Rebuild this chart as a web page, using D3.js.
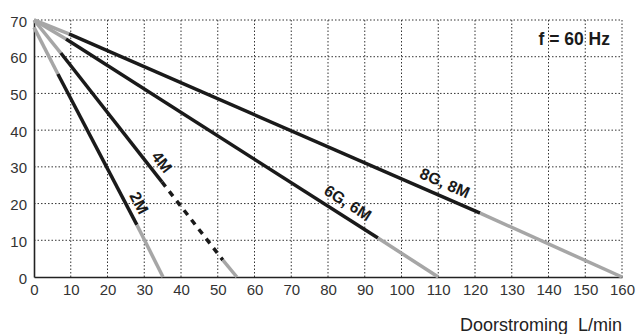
<!DOCTYPE html>
<html>
<head>
<meta charset="utf-8">
<script src="https://cdn.jsdelivr.net/npm/d3@7"></script>
<style>
  html, body { margin: 0; padding: 0; background: #fff; }
  svg { display: block; font-family: Arial, "Liberation Sans", sans-serif; }
</style>
</head>
<body>
<svg id="chart" width="637" height="334"></svg>
<script>
// ---- data ----
const xTicks = [0,10,20,30,40,50,60,70,80,90,100,110,120,130,140,150,160];
const yTicks = [0,10,20,30,40,50,60,70];
const seriesNames = ["2M", "4M", "6G, 6M", "8G, 8M"];
// breakpoints [flow L/min, head m] for each curve
const curve2M = [[0,68],[6.5,55.3],[28,14.2],[35.1,0]];
const curve4M = [[0,70],[7.3,61],[34.8,25.9],[51.4,4.6],[55.2,0]];
const curve6G = [[0,70],[8.7,64.8],[93.6,10.6],[110,0]];
const curve8G = [[0,70],[9.5,66.2],[121.4,17.4],[160,0]];
// style of each segment between breakpoints
const segs2M = ["gray","black","gray"];
const segs4M = ["gray","black","dash","gray"];
const segs6G = ["gray","black","gray"];
const segs8G = ["gray","black","gray"];
// label anchor positions [flow, head] along each curve
const labelPos = [[28.6,20.2],[34.8,31.3],[85.4,20.2],[111.8,25.6]];
const freqLabel = "f = 60 Hz";
const xTitle = "Doorstroming\u00a0\u00a0L/min";

const curves = [curve2M, curve4M, curve6G, curve8G];
const segs = [segs2M, segs4M, segs6G, segs8G];

const svg = d3.select("#chart");
const x = d3.scaleLinear().domain([0,160]).range([34,622]);
const y = d3.scaleLinear().domain([0,70]).range([277,20]);

// grid
const grid = svg.append("g");
grid.selectAll(".vg").data(xTicks.filter(d => d > 0)).join("line")
  .attr("x1", d => x(d)).attr("x2", d => x(d))
  .attr("y1", y(0)).attr("y2", y(70))
  .attr("stroke", "#333").attr("stroke-width", 1).attr("stroke-dasharray", "1.5,2");
grid.selectAll(".hg").data(yTicks.filter(d => d > 0)).join("line")
  .attr("x1", x(0)).attr("x2", x(160))
  .attr("y1", d => y(d)).attr("y2", d => y(d))
  .attr("stroke", "#333").attr("stroke-width", 1).attr("stroke-dasharray", "1.5,2");

// axes
const xAxis = svg.append("g").attr("transform", `translate(0,${y(0)})`)
  .call(d3.axisBottom(x).tickValues(xTicks).tickSize(0).tickPadding(7).tickFormat(d3.format("d")));
const yAxis = svg.append("g").attr("transform", `translate(${x(0)},0)`)
  .call(d3.axisLeft(y).tickValues(yTicks).tickSize(0).tickPadding(7).tickFormat(d3.format("d")));
[xAxis, yAxis].forEach(a => {
  a.select(".domain").attr("stroke", "#222").attr("stroke-width", 1.6);
  a.selectAll("text").attr("font-size", 15).attr("fill", "#333")
    .attr("font-family", "Arial, 'Liberation Sans', sans-serif");
});
yAxis.selectAll("text").attr("dy", "0.4em");

// curves
const colors = { gray: "#a6a6a6", black: "#1a1a1a", dash: "#1a1a1a" };
const lineGen = d3.line().x(d => x(d[0])).y(d => y(d[1]));
const cg = svg.append("g");
curves.forEach((pts, i) => {
  segs[i].forEach((s, j) => {
    cg.append("path")
      .attr("d", lineGen([pts[j], pts[j+1]]))
      .attr("fill", "none")
      .attr("stroke", colors[s])
      .attr("stroke-width", 3.5)
      .attr("stroke-dasharray", s === "dash" ? "6,6" : null);
  });
});

// curve labels, rotated along the curve
curves.forEach((pts, i) => {
  const a = pts[0], b = pts[pts.length - 1];
  const ang = Math.atan2(y(b[1]) - y(a[1]), x(b[0]) - x(a[0])) * 180 / Math.PI;
  const [lx, ly] = labelPos[i];
  svg.append("text")
    .attr("transform", `translate(${x(lx)},${y(ly)}) rotate(${ang})`)
    .attr("text-anchor", "middle").attr("dominant-baseline", "central")
    .attr("font-size", 16).attr("font-weight", "bold").attr("fill", "#1a1a1a")
    .text(seriesNames[i]);
});

// frequency label
svg.append("text").attr("x", 610).attr("y", 45).attr("text-anchor", "end")
  .attr("font-size", 17.5).attr("font-weight", "bold").attr("fill", "#1a1a1a")
  .text(freqLabel);

// x title
svg.append("text").attr("x", 622).attr("y", 331).attr("text-anchor", "end")
  .attr("font-size", 18).attr("fill", "#222")
  .text(xTitle);
</script>
</body>
</html>
